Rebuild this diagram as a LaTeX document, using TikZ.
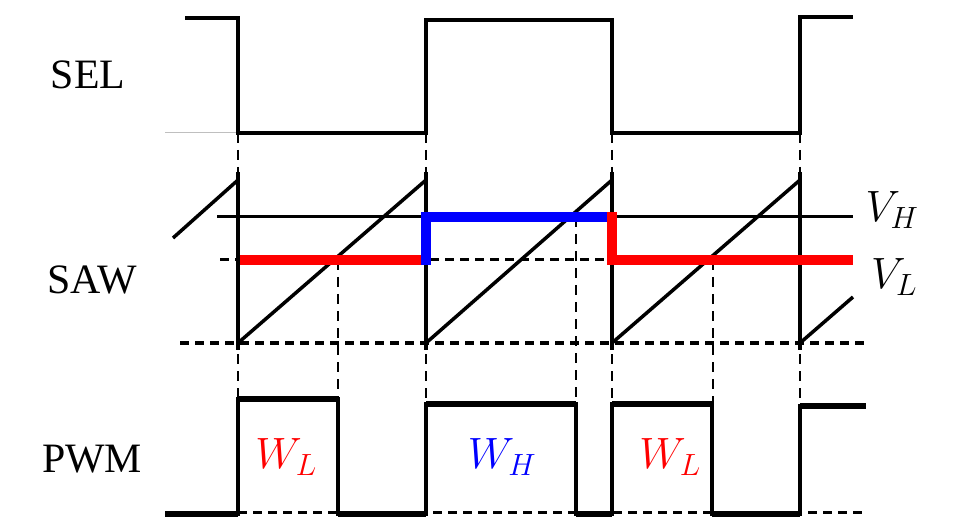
\RequirePackage{fix-cm}
\documentclass[tikz,border=0pt]{standalone}
\usepackage{fontspec}
\setmainfont{Liberation Serif}
\begin{document}
\begin{tikzpicture}[x=1bp,y=-1bp]
\tikzset{
 sig/.style={line width=4bp, line join=miter},
 thick sig/.style={line width=5.5bp},
 saw/.style={line width=3.5bp},
 guide/.style={line width=3bp, dash pattern=on 9bp off 6bp},
 vguide/.style={line width=2.5bp, dash pattern=on 10bp off 7bp},
 lvl/.style={line width=10bp, line join=miter},
 lbl/.style={inner sep=0pt, font=\fontsize{42}{46}\selectfont},
 mlbl/.style={inner sep=0pt, font=\fontsize{44}{48}\selectfont},
}
\useasboundingbox (0,0) rectangle (974,532);
% SEL
\draw[gray!50, line width=1bp] (165,133) -- (238,133);
\foreach \x in {238,426,612,800} \draw[vguide] (\x,133) -- (\x,400);
\draw[sig] (185,18) -- (238,18) -- (238,133) -- (426,133) -- (426,20) -- (612,20) -- (612,133) -- (800,133) -- (800,17) -- (853,17);
% SAW
\draw[line width=3bp] (217,217) -- (853,217);
\draw[guide] (220,260) -- (853,260);
\draw[guide] (180,343) -- (865,343);
\draw[vguide] (338,260) -- (338,399);
\draw[vguide] (576,217) -- (576,404);
\draw[vguide] (713,260) -- (713,404);
\foreach \x in {238,426,612,800} \draw[saw] (\x,172) -- (\x,350);
\draw[saw] (173,238) -- (238,180);
\draw[saw] (238,343) -- (426,180);
\draw[saw] (426,343) -- (612,180);
\draw[saw] (612,343) -- (800,180);
\draw[saw] (800,343) -- (853,297);
\draw[lvl, red] (240,260) -- (426,260);
\draw[lvl, blue] (426,265) -- (426,217) -- (612,217);
\draw[lvl, red] (612,212) -- (612,260) -- (853,260);
% PWM
\draw[guide] (238,512) -- (866,512);
\draw[line width=3.5bp, line join=miter] (165,514) -- (238,514) -- (238,399) -- (338,399) -- (338,514) -- (426,514) -- (426,404) -- (576,404) -- (576,514) -- (612,514) -- (612,404) -- (712,404) -- (712,514) -- (800,514) -- (800,406) -- (866,406);
\draw[thick sig] (165,514) -- (238,514) (238,399) -- (338,399) (338,514) -- (426,514) (426,404) -- (576,404) (576,514) -- (612,514) (612,404) -- (712,404) (712,514) -- (800,514) (800,406) -- (866,406);
% labels
\node[lbl] (sel) at (88,74.5) {SEL};
\node[lbl] (saw) at (92,280) {SAW};
\node[lbl] (pwm) at (92,459) {PWM};
\node[mlbl, text=red] (wl1) at (286,457) {$W_L$};
\node[mlbl, text=blue] (wh) at (502,457) {$W_H$};
\node[mlbl, text=red] (wl2) at (670,457) {$W_L$};
\node[mlbl] (vh) at (892,210) {$V_H$};
\node[mlbl] (vl) at (894,277) {$V_L$};
\end{tikzpicture}
\end{document}
